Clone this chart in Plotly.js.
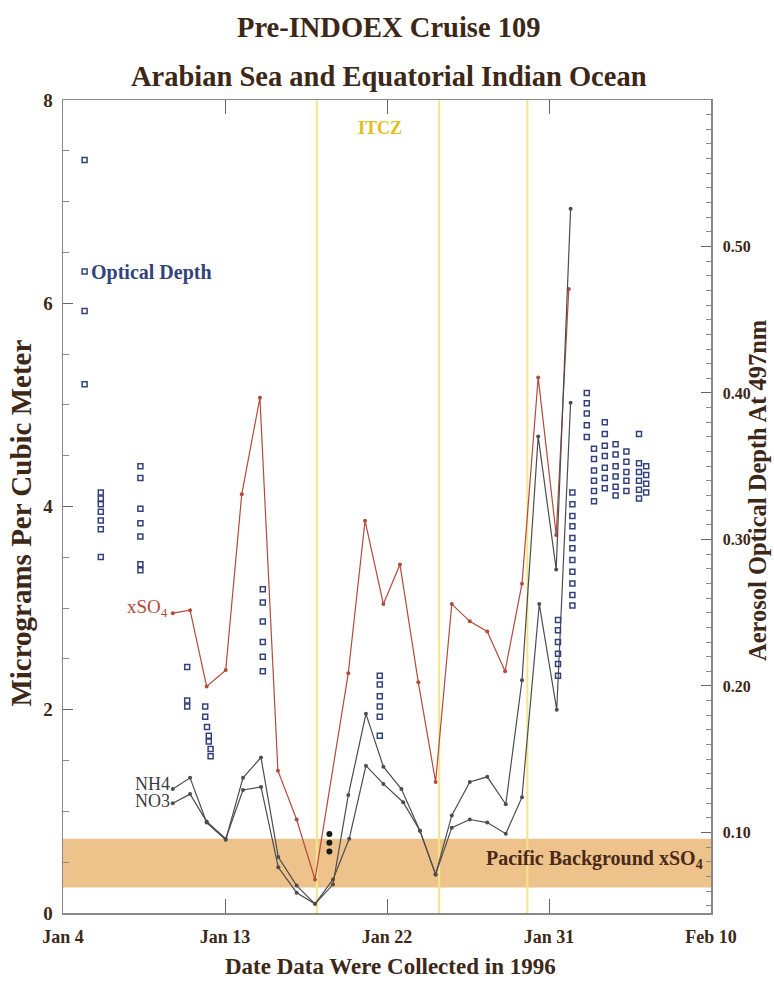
<!DOCTYPE html>
<html>
<head>
<meta charset="utf-8">
<script src="https://cdn.plot.ly/plotly-3.0.1.min.js"></script>
<style>html,body{margin:0;padding:0;background:#fff;}#chart{width:774px;height:987px;}</style>
</head>
<body>
<div id="chart"></div>
<script>
// ---- Data (x = day of January 1996; Feb 1 = 32) ----
var tickDays = [4, 13, 22, 31, 40];
var tickLabels = ["Jan 4", "Jan 13", "Jan 22", "Jan 31", "Feb 10"];

var xso4Days = [10.1, 11.06, 11.98, 13.04, 13.93, 14.94, 15.94, 16.98, 18.0, 19.85, 20.78, 21.8, 22.72, 23.74, 24.7, 25.6, 26.6, 27.57, 28.56, 29.5, 30.4, 31.4, 32.1];
var xso4Vals = [2.95, 2.98, 2.23, 2.39, 4.12, 5.07, 1.40, 0.92, 0.33, 2.36, 3.86, 3.04, 3.43, 2.27, 1.29, 3.04, 2.87, 2.77, 2.38, 3.24, 5.27, 3.72, 6.14];

var nh4Days = [10.1, 11.06, 11.98, 13.04, 14.0, 15.0, 15.96, 16.98, 18.0, 19.0, 19.85, 20.83, 21.8, 22.8, 23.83, 24.7, 25.6, 26.6, 27.57, 28.6, 29.5, 30.4, 31.4, 32.2];
var nh4Vals = [1.22, 1.33, 0.89, 0.72, 1.33, 1.53, 0.55, 0.27, 0.09, 0.28, 1.16, 1.96, 1.44, 1.22, 0.81, 0.38, 0.96, 1.29, 1.34, 1.07, 2.29, 4.69, 3.38, 6.93];

var no3Days = [10.1, 11.06, 11.98, 13.04, 14.0, 15.0, 15.96, 16.98, 18.0, 19.0, 19.9, 20.83, 21.8, 22.9, 23.83, 24.7, 25.6, 26.6, 27.57, 28.6, 29.5, 30.46, 31.43, 32.2];
var no3Vals = [1.08, 1.17, 0.90, 0.73, 1.21, 1.24, 0.45, 0.20, 0.09, 0.33, 0.73, 1.45, 1.27, 1.09, 0.81, 0.38, 0.84, 0.92, 0.89, 0.78, 1.14, 3.04, 2.00, 5.02];

var odDays = [5.2, 5.2, 5.2, 5.2,
  6.1, 6.1, 6.1, 6.1, 6.1, 6.1, 6.1,
  8.3, 8.3, 8.3, 8.3, 8.3, 8.3, 8.3,
  10.9, 10.9, 10.9,
  11.9, 11.9, 12.0, 12.1, 12.1, 12.2, 12.2,
  15.1, 15.1, 15.1, 15.1, 15.1, 15.1,
  21.6, 21.6, 21.6, 21.6, 21.6, 21.6,
  31.5, 31.5, 31.5, 31.5, 31.5, 31.5,
  32.3, 32.3, 32.3, 32.3, 32.3, 32.3, 32.3, 32.3, 32.3, 32.3, 32.3,
  33.1, 33.1, 33.1, 33.1, 33.1,
  33.5, 33.5, 33.5, 33.5, 33.5, 33.5,
  34.1, 34.1, 34.1, 34.1, 34.1, 34.1, 34.1,
  34.7, 34.7, 34.7, 34.7, 34.7, 34.7,
  35.3, 35.3, 35.3, 35.3, 35.3,
  36.0, 36.0, 36.0, 36.0, 36.0, 36.0,
  36.4, 36.4, 36.4, 36.4];
var odVals = [0.559, 0.483, 0.456, 0.406,
  0.332, 0.328, 0.324, 0.319, 0.313, 0.307, 0.288,
  0.350, 0.342, 0.321, 0.311, 0.302, 0.283, 0.279,
  0.213, 0.190, 0.186,
  0.186, 0.179, 0.172, 0.166, 0.162, 0.157, 0.152,
  0.266, 0.257, 0.244, 0.230, 0.220, 0.210,
  0.207, 0.201, 0.193, 0.186, 0.179, 0.166,
  0.245, 0.238, 0.230, 0.222, 0.215, 0.207,
  0.332, 0.324, 0.316, 0.309, 0.301, 0.294, 0.286, 0.278, 0.270, 0.262, 0.255,
  0.400, 0.393, 0.386, 0.378, 0.370,
  0.362, 0.355, 0.347, 0.340, 0.333, 0.326,
  0.380, 0.372, 0.364, 0.357, 0.349, 0.342, 0.335,
  0.365, 0.358, 0.350, 0.343, 0.336, 0.330,
  0.360, 0.353, 0.346, 0.340, 0.333,
  0.372, 0.352, 0.346, 0.340, 0.334, 0.328,
  0.350, 0.344, 0.338, 0.332];

// dark, filled optical-depth readings just after the first ITCZ crossing
var odDarkDays = [18.8, 18.8, 18.8];
var odDarkVals = [0.099, 0.093, 0.087];

var itczLines = [18.1, 24.9, 29.8];
var pacificBand = [0.25, 0.73];

// ---- Styles ----
var SERIF = "Liberation Serif, Times New Roman, serif";
var DARK = "#3d2817";
var RED = "#b34b3a";
var GRAY = "#4d4d4d";
var NAVY = "#33427c";

var traces = [
  {x: xso4Days, y: xso4Vals, mode: "lines+markers", name: "xSO4", yaxis: "y",
   line: {color: RED, width: 1.2}, marker: {color: RED, size: 4, symbol: "circle"}},
  {x: nh4Days, y: nh4Vals, mode: "lines+markers", name: "NH4", yaxis: "y",
   line: {color: GRAY, width: 1.2}, marker: {color: GRAY, size: 4}},
  {x: no3Days, y: no3Vals, mode: "lines+markers", name: "NO3", yaxis: "y",
   line: {color: GRAY, width: 1.2}, marker: {color: GRAY, size: 4}},
  {x: odDays, y: odVals, mode: "markers", name: "Optical Depth", yaxis: "y2",
   marker: {color: NAVY, size: 5, symbol: "square-open", line: {width: 1.5, color: NAVY}}},
  {x: odDarkDays, y: odDarkVals, mode: "markers", name: "Optical Depth (dark)", yaxis: "y2",
   marker: {color: "#1a1a1a", size: 6, symbol: "circle"}}
];

var shapes = [{type: "rect", xref: "paper", x0: 0, x1: 1, yref: "y", y0: pacificBand[0], y1: pacificBand[1],
  fillcolor: "#eec28b", line: {width: 0}, layer: "below"}];
itczLines.forEach(function (d) {
  shapes.push({type: "line", xref: "x", x0: d, x1: d, yref: "paper", y0: 0, y1: 1,
    line: {color: "#f4e589", width: 2}, layer: "below"});
});

var annotations = [
  {text: "Pre-INDOEX Cruise 109", xref: "paper", yref: "paper", x: 0.503, y: 1.0886, yanchor: "middle", showarrow: false,
   font: {family: SERIF, size: 28.5, color: DARK, weight: "bold"}},
  {text: "Arabian Sea and Equatorial Indian Ocean", xref: "paper", yref: "paper", x: 0.503, y: 1.0295, yanchor: "middle", showarrow: false,
   font: {family: SERIF, size: 28.5, color: DARK, weight: "bold"}},
  {text: "Micrograms Per Cubic Meter", xref: "paper", yref: "paper", x: -0.0648, xanchor: "center", y: 0.479, yanchor: "middle",
   textangle: -90, showarrow: false,
   font: {family: SERIF, size: 29, color: DARK, weight: "bold"}},
  {text: "Aerosol Optical Depth At 497nm", xref: "paper", yref: "paper", x: 1.0725, xanchor: "center", y: 0.5203, yanchor: "middle",
   textangle: -90, showarrow: false,
   font: {family: SERIF, size: 24.5, color: DARK, weight: "bold"}},
  {text: "Date Data Were Collected in 1996", xref: "paper", yref: "paper", x: 0.506, y: -0.0664, yanchor: "middle", showarrow: false,
   font: {family: SERIF, size: 23, color: DARK, weight: "bold"}},
  {text: "ITCZ", xref: "x", x: 21.6, yref: "y", y: 7.72, showarrow: false,
   font: {family: SERIF, size: 18, color: "#e3bd1c", weight: "bold"}},
  {text: "Optical Depth", xref: "x", x: 5.45, xanchor: "left", yref: "y", y: 6.3, showarrow: false,
   font: {family: SERIF, size: 20, color: NAVY, weight: "bold"}},
  {text: "xSO<sub>4</sub>", xref: "x", x: 9.95, xanchor: "right", yref: "y", y: 3.0, showarrow: false,
   font: {family: SERIF, size: 19, color: RED}},
  {text: "NH4", xref: "x", x: 10.05, xanchor: "right", yref: "y", y: 1.27, showarrow: false,
   font: {family: SERIF, size: 18, color: "#3c3c3c"}},
  {text: "NO3", xref: "x", x: 10.05, xanchor: "right", yref: "y", y: 1.10, showarrow: false,
   font: {family: SERIF, size: 18, color: "#3c3c3c"}},
  {text: "Pacific Background xSO<sub>4</sub>", xref: "paper", x: 0.99, xanchor: "right", yref: "y", y: 0.53, showarrow: false,
   font: {family: SERIF, size: 20, color: "#4a2a18", weight: "bold"}}
];

var layout = {
  width: 774, height: 987,
  margin: {l: 63, r: 63, t: 100, b: 74},
  paper_bgcolor: "#ffffff", plot_bgcolor: "#ffffff",
  showlegend: false,
  xaxis: {range: [4, 40], tickvals: tickDays, ticktext: tickLabels, ticks: "inside", ticklen: 14,
    tickcolor: "#666", showline: true, linecolor: "#888", linewidth: 1.5, mirror: "ticks",
    showgrid: false, zeroline: false, ticklabelstandoff: 7,
    tickfont: {family: SERIF, size: 18, color: DARK, weight: "bold"}},
  yaxis: {range: [0, 8], dtick: 2, tick0: 0, ticks: "inside", ticklen: 10, tickcolor: "#666",
    minor: {dtick: 0.5, ticks: "inside", ticklen: 6, tickcolor: "#888", showgrid: false},
    showline: true, linecolor: "#888", linewidth: 1.5, showgrid: false, zeroline: false, ticklabelstandoff: 5,
    tickfont: {family: SERIF, size: 19, color: DARK, weight: "bold"}},
  yaxis2: {range: [0.045, 0.60], overlaying: "y", side: "right",
    tickvals: [0.1, 0.2, 0.3, 0.4, 0.5], ticktext: ["0.10", "0.20", "0.30", "0.40", "0.50"],
    ticks: "inside", ticklen: 10, tickcolor: "#666",
    minor: {tick0: 0, dtick: 0.01, ticks: "inside", ticklen: 5, tickcolor: "#888", showgrid: false},
    showline: true, linecolor: "#888", linewidth: 1.5, showgrid: false, zeroline: false, ticklabelstandoff: 7,
    tickfont: {family: SERIF, size: 16, color: DARK, weight: "bold"}},
  shapes: shapes,
  annotations: annotations
};

Plotly.newPlot("chart", traces, layout, {displayModeBar: false, staticPlot: true});
</script>
</body>
</html>
